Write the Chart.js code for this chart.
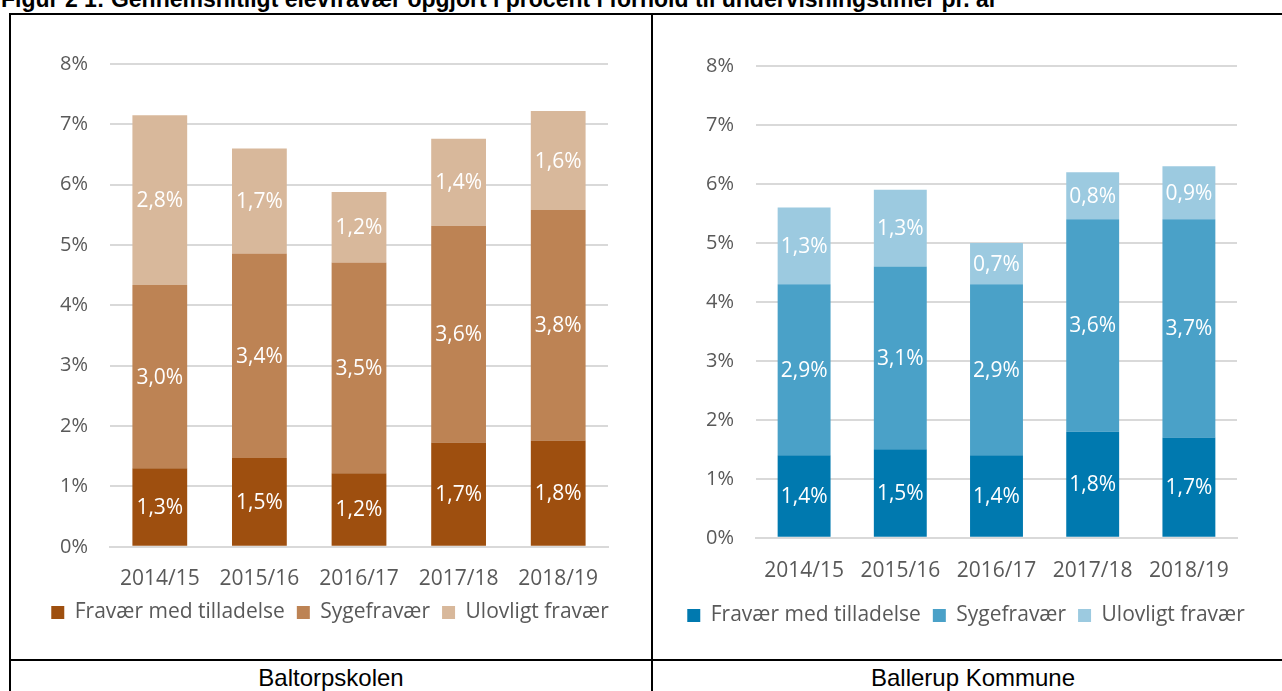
<!DOCTYPE html>
<html>
<head>
<meta charset="utf-8">
<script src="https://cdn.jsdelivr.net/npm/chart.js@4/dist/chart.umd.min.js"></script>
<style>
  body { margin: 0; background: #fff; width: 1282px; height: 691px; overflow: hidden; position: relative; font-family: "Liberation Sans", Arial, sans-serif; }
  .title { position: absolute; left: 1px; top: -12px; font-weight: bold; font-size: 23px; line-height: 23px; white-space: nowrap; color: #000; }
  .ln { position: absolute; background: #000; }
  .cap { position: absolute; top: 664px; font-size: 24px; line-height: 28px; text-align: center; color: #000; }
  .box { position: absolute; }
</style>
</head>
<body>
<div class="title">Figur 2 1: Gennemsnitligt elevfravær opgjort i procent i forhold til undervisningstimer pr. år</div>
<div class="ln" style="left:9px;top:13px;width:1290px;height:2px"></div>
<div class="ln" style="left:9px;top:13px;width:2px;height:700px"></div>
<div class="ln" style="left:651px;top:13px;width:2px;height:700px"></div>
<div class="ln" style="left:9px;top:659px;width:1290px;height:2px"></div>
<div class="cap" style="left:11px;width:640px">Baltorpskolen</div>
<div class="cap" style="left:653px;width:640px">Ballerup Kommune</div>

<div class="box" style="left:12px;top:30px;width:636px;height:610px"><canvas id="chart1"></canvas></div>
<div class="box" style="left:656px;top:30px;width:620px;height:610px"><canvas id="chart2"></canvas></div>

<script>
var years = ['2014/15', '2015/16', '2016/17', '2017/18', '2018/19'];
var seriesNames = ['Fravær med tilladelse', 'Sygefravær', 'Ulovligt fravær'];
var yTicks = [0, 1, 2, 3, 4, 5, 6, 7, 8];

// Baltorpskolen
var baltTilladelse = [1.30, 1.47, 1.22, 1.73, 1.76];
var baltSyge = [3.04, 3.39, 3.49, 3.59, 3.82];
var baltUlovligt = [2.81, 1.74, 1.17, 1.44, 1.64];

// Ballerup Kommune
var kommTilladelse = [1.4, 1.5, 1.4, 1.8, 1.7];
var kommSyge = [2.9, 3.1, 2.9, 3.6, 3.7];
var kommUlovligt = [1.3, 1.3, 0.7, 0.8, 0.9];

var brownColors = ['#9e4f0f', '#bd8354', '#d8b89b'];
var blueColors = ['#0079af', '#4aa1c8', '#9ccae0'];

Chart.defaults.font.family = "'Open Sans', sans-serif";
Chart.defaults.font.size = 21;
Chart.defaults.color = '#595959';

function pct(v) {
	return v.toFixed(1).replace('.', ',') + '%';
}

var barLabels = {
	id: 'barLabels',
	afterDatasetsDraw: function(chart) {
		var ctx = chart.ctx;
		ctx.save();
		ctx.fillStyle = '#ffffff';
		ctx.font = "21px 'Open Sans', sans-serif";
		ctx.textAlign = 'center';
		ctx.textBaseline = 'middle';
		chart.data.datasets.forEach(function(ds, i) {
			var meta = chart.getDatasetMeta(i);
			meta.data.forEach(function(bar, j) {
				ctx.fillText(pct(ds.data[j]), bar.x, (bar.y + bar.base) / 2 + 1);
			});
		});
		ctx.restore();
	}
};

function makeChart(id, values, colors, pad, yWidth, rightGap, xPad, xExtra) {
	var datasets = [];
	for (var i = 0; i < values.length; i++) {
		datasets.push({
			label : seriesNames[i],
			data : values[i],
			backgroundColor : colors[i],
			borderWidth : 0,
			barPercentage : 0.55,
			categoryPercentage : 1.0
		});
	}
	var config = {
		type : 'bar',
		data : {
			labels : years,
			datasets : datasets
		},
		options : {
			responsive : true,
			maintainAspectRatio : false,
			animation : false,
			layout : { padding : pad },
			scales : {
				x : {
					stacked : true,
					grid : { display : false, drawTicks : false },
					border : { display : true, color : '#d9d9d9', width : 2 },
					ticks : { padding : xPad, maxRotation : 0 },
					afterFit : function(scale) { scale.height += xExtra; }
				},
				y : {
					stacked : true,
					min : 0,
					max : 8,
					afterBuildTicks : function(scale) {
						scale.ticks = yTicks.map(function(v) { return { value : v }; });
					},
					grid : { color : '#d9d9d9', lineWidth : 2, drawTicks : false },
					border : { display : false },
					ticks : {
						padding : 22,
						font : { size : 20 },
						callback : function(v) { return v + '%'; }
					},
					afterFit : function(scale) { scale.width = yWidth; }
				},
				// empty space on the right so the legend can use the full width
				gap : {
					type : 'linear',
					position : 'right',
					grid : { display : false, drawTicks : false },
					border : { display : false },
					ticks : { display : false },
					afterFit : function(scale) { scale.width = rightGap; }
				}
			},
			plugins : {
				legend : {
					position : 'bottom',
					labels : { boxWidth : 13, boxHeight : 13, padding : 12, color : '#595959' }
				},
				tooltip : { enabled : false }
			}
		},
		plugins : [ barLabels ]
	};
	return new Chart(document.getElementById(id).getContext('2d'), config);
}

makeChart('chart1', [baltTilladelse, baltSyge, baltUlovligt], brownColors,
	{ left : 0, right : 0, top : 28, bottom : 7 }, 98, 40, 20, -22);
makeChart('chart2', [kommTilladelse, kommSyge, kommUlovligt], blueColors,
	{ left : 0, right : 0, top : 36, bottom : 4 }, 100, 39, 21, -12);
</script>
</body>
</html>
